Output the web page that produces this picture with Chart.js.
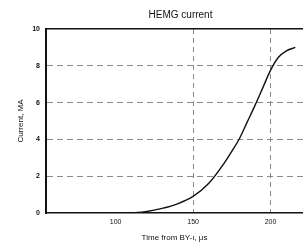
<!DOCTYPE html>
<html>
<head>
<meta charset="utf-8">
<script src="https://cdn.jsdelivr.net/npm/chart.js@4/dist/chart.umd.min.js"></script>
<style>
    html, body { margin: 0; padding: 0; background: #fff; }
    #wrap { width: 303px; height: 243px; }
</style>
</head>
<body>
<div id="wrap"><canvas id="chart"></canvas></div>
<script>
// Data
const timeUs = [55, 100, 110, 120, 130, 140, 150, 160, 170, 175, 180, 185, 190, 195, 200, 205, 210, 216];
const currentMA = [0, 0, 0, 0.08, 0.25, 0.5, 0.9, 1.6, 2.7, 3.35, 4.05, 4.95, 5.85, 6.8, 7.75, 8.45, 8.8, 9.0];
const xTicks = [100, 150, 200];
const yTicks = [0, 2, 4, 6, 8, 10];

Chart.defaults.font.family = "'Liberation Sans', Arial, sans-serif";
Chart.defaults.color = "#111";

// centre the title over the plot area rather than the whole canvas
const titleOverPlot = {
    id: "titleOverPlot",
    afterLayout(chart) {
        const t = chart.titleBlock;
        if (t) { t.left = chart.chartArea.left + 6; t.right = chart.chartArea.right + 6; }
    }
};

new Chart(document.getElementById("chart"), {
    type: "line",
    data: {
        datasets: [{
            data: timeUs.map((t, i) => ({ x: t, y: currentMA[i] })),
            borderColor: "#111",
            borderWidth: 1.4,
            pointRadius: 0,
            cubicInterpolationMode: "monotone",
            fill: false
        }]
    },
    options: {
        responsive: true,
        maintainAspectRatio: false,
        animation: false,
        layout: { padding: { left: 16, right: 0, top: 0, bottom: 0 } },
        plugins: {
            legend: { display: false },
            tooltip: { enabled: false },
            title: {
                display: true,
                text: "HEMG current",
                font: { size: 10, weight: "normal" },
                color: "#111",
                padding: { top: 9, bottom: 8 }
            }
        },
        scales: {
            x: {
                type: "linear",
                min: 55,
                max: 221,
                afterBuildTicks: s => { s.ticks = xTicks.map(v => ({ value: v })); },
                afterFit: s => { s.height = 30; },
                ticks: { font: { size: 7 }, padding: 5, maxRotation: 0 },
                grid: {
                    color: c => (c.tick && c.tick.value === 100) ? "rgba(0,0,0,0)" : "#8a8a8a",
                    lineWidth: 1,
                    drawTicks: false
                },
                border: { display: true, color: "#111", width: 1.5, dash: [5, 4] },
                title: {
                    display: true,
                    text: "Time from BY-ı, μs",
                    font: { size: 8 },
                    padding: { top: 3, bottom: 0 }
                }
            },
            x2: {
                type: "linear",
                position: "top",
                min: 55,
                max: 221,
                ticks: { display: false },
                grid: { display: false },
                border: { display: true, color: "#111", width: 1.5 },
                afterFit: s => { s.height = 0; }
            },
            y: {
                min: 0,
                max: 10,
                afterBuildTicks: s => { s.ticks = yTicks.map(v => ({ value: v })); },
                afterFit: s => { s.width = 30; },
                ticks: { font: { size: 7, weight: "bold" }, padding: 6 },
                grid: {
                    color: c => (c.tick && (c.tick.value === 0 || c.tick.value === 10)) ? "rgba(0,0,0,0)" : "#8a8a8a",
                    lineWidth: 1,
                    drawTicks: false
                },
                border: { display: true, color: "#111", width: 2, dash: [6, 4] },
                title: {
                    display: true,
                    text: "Current, MA",
                    font: { size: 8 },
                    padding: { top: 0, bottom: 4 }
                }
            }
        }
    },
    plugins: [titleOverPlot]
});
</script>
</body>
</html>
